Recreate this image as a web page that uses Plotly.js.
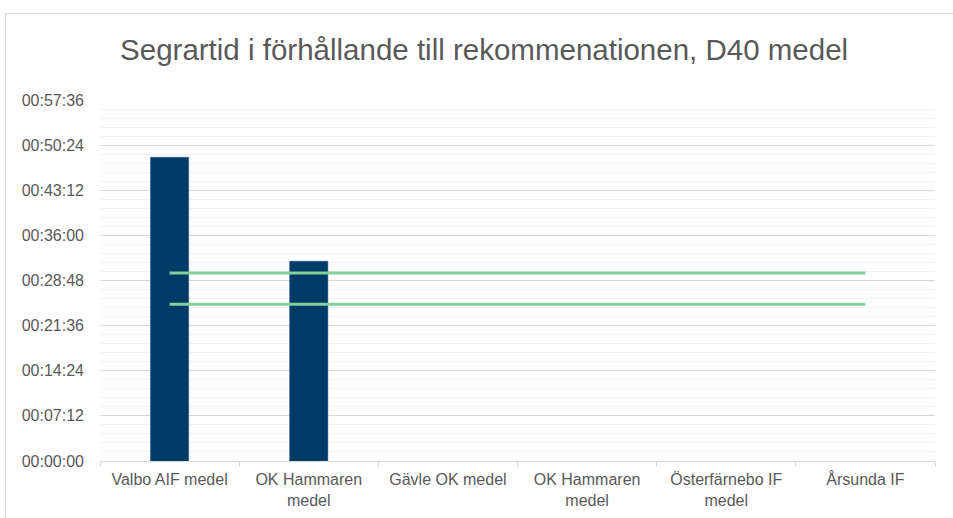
<!DOCTYPE html>
<html>
<head>
<meta charset="utf-8">
<script src="https://cdn.plot.ly/plotly-3.0.1.min.js"></script>
<style>
  html, body { margin: 0; padding: 0; background: #fff; }
  #wrap { position: relative; width: 953px; height: 518px; overflow: hidden; }
  #frame { position: absolute; left: 5px; top: 13px; width: 960px; height: 520px; border: 1px solid #d9d9d9; box-sizing: border-box; pointer-events: none; }
  #chart { position: absolute; left: 0; top: 0; width: 953px; height: 518px; }
</style>
</head>
<body>
<div id="wrap">
  <div id="chart"></div>
  <div id="frame"></div>
</div>
<script>
// Data (seconds)
const categories = ["Valbo AIF medel", "OK Hammaren<br>medel", "Gävle OK medel", "OK Hammaren<br>medel", "Österfärnebo IF<br>medel", "Årsunda IF"];
const segrartid = [2908, 1913, null, null, null, null];
const rekOver = [1800, 1800, 1800, 1800, 1800, 1800];
const rekUnder = [1500, 1500, 1500, 1500, 1500, 1500];
const yTickVals = [0, 432, 864, 1296, 1728, 2160, 2592, 3024, 3456];
const yTickText = ["00:00:00", "00:07:12", "00:14:24", "00:21:36", "00:28:48", "00:36:00", "00:43:12", "00:50:24", "00:57:36"];

const xIdx = categories.map((_, i) => i);
const boundaries = categories.map((_, i) => i - 0.5).concat([categories.length - 0.5]);

const txtColor = "#595959";
const font = "Liberation Sans, Arial, sans-serif";

const traces = [
  { type: "bar", x: xIdx, y: segrartid, width: 0.275,
    marker: { color: "#003a66", line: { color: "#2f5a85", width: 0.5 } },
    hoverinfo: "skip", showlegend: false },
  { type: "scatter", mode: "lines", x: xIdx, y: rekOver,
    line: { color: "#82d09a", width: 3 }, hoverinfo: "skip", showlegend: false },
  { type: "scatter", mode: "lines", x: xIdx, y: rekUnder,
    line: { color: "#82d09a", width: 3 }, hoverinfo: "skip", showlegend: false }
];

const layout = {
  width: 953, height: 518,
  margin: { l: 100, r: 18, t: 100, b: 57 },
  paper_bgcolor: "rgba(0,0,0,0)", plot_bgcolor: "#fff",
  font: { family: font, color: txtColor, size: 16 },
  title: { text: "Segrartid i förhållande till rekommenationen, D40 medel",
    font: { family: font, size: 29.5, color: txtColor },
    x: 0.508, xref: "container", xanchor: "center",
    y: 0.905, yref: "container", yanchor: "middle" },
  xaxis: {
    range: [-0.5, 5.5], tickmode: "array", tickvals: xIdx, ticktext: categories,
    ticks: "", showgrid: false, zeroline: false, ticklabelstandoff: 4,
    showline: true, linecolor: "#d9d9d9", linewidth: 1,
    tickfont: { family: font, size: 16, color: txtColor },
    minor: { tickmode: "array", tickvals: boundaries, ticks: "outside", ticklen: 5, tickcolor: "#d9d9d9", tickwidth: 1, showgrid: false },
    fixedrange: true
  },
  yaxis: {
    range: [0, 3456], tickmode: "array", tickvals: yTickVals, ticktext: yTickText,
    showgrid: true, gridcolor: "#d9d9d9", gridwidth: 1, zeroline: false,
    ticks: "", ticklabelstandoff: 15, showline: false,
    tickfont: { family: font, size: 16, color: txtColor },
    minor: { tickmode: "linear", tick0: 0, dtick: 86.4, showgrid: true, gridcolor: "#f2f2f2", gridwidth: 1, ticks: "" },
    fixedrange: true
  },
  bargap: 0.5
};

Plotly.newPlot("chart", traces, layout, { displayModeBar: false, staticPlot: true });
</script>
</body>
</html>
